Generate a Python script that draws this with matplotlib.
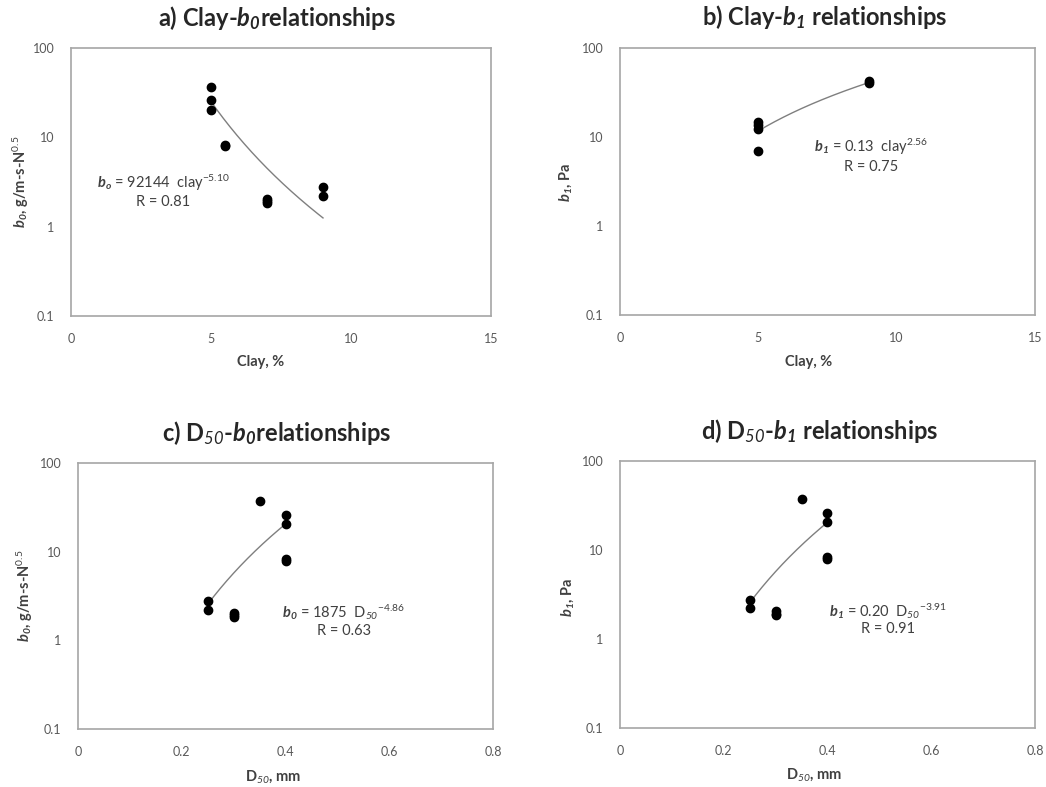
import numpy as np
import matplotlib
matplotlib.use("Agg")
import matplotlib.pyplot as plt
from matplotlib.ticker import FixedLocator, FixedFormatter, NullLocator


plt.rcParams['font.family'] = ['Lato', 'DejaVu Sans']
plt.rcParams['mathtext.fontset'] = 'custom'
plt.rcParams['mathtext.rm'] = 'Lato'
plt.rcParams['mathtext.it'] = 'Lato:italic'
plt.rcParams['mathtext.sf'] = 'Lato:italic'
plt.rcParams['mathtext.bf'] = 'Lato:bold'
plt.rcParams['mathtext.bfit'] = 'Lato:bold:italic'


#--------------------------------------------------------------------------------------------------
# Data.
#--------------------------------------------------------------------------------------------------
clay_b0 = [5, 5, 5, 5.5, 5.5, 7, 7, 7, 9, 9]
b0_clay = [36.5, 25.9, 20.3, 8.3, 8.0, 2.05, 1.92, 1.85, 2.76, 2.22]

clay_b1 = [5, 5, 5, 5, 9, 9]
b1_clay = [14.9, 13.7, 12.4, 7.05, 42.9, 40.4]

d50_b0 = [0.25, 0.25, 0.30, 0.30, 0.30, 0.35, 0.40, 0.40, 0.40, 0.40]
b0_d50 = [2.75, 2.22, 2.05, 1.92, 1.85, 37.0, 26.0, 20.6, 8.3, 7.9]

d50_b1 = [0.25, 0.25, 0.30, 0.30, 0.30, 0.35, 0.40, 0.40, 0.40, 0.40]
b1_d50 = [2.75, 2.22, 2.05, 1.92, 1.85, 37.0, 26.0, 20.6, 8.3, 7.9]

# Trend lines (power curves y = a x^n), coefficient, exponent and x span.
trend_a = (92144, -5.10, 5, 9)
trend_b = (0.38, 2.13, 5, 9)
trend_c = (1187, 4.43, 0.25, 0.40)
trend_d = (1187, 4.43, 0.25, 0.40)

y_ticks = [0.1, 1, 10, 100]
y_tick_labels = ["0.1", "1", "10", "100"]
clay_ticks = [0, 5, 10, 15]
d50_ticks = [0, 0.2, 0.4, 0.6, 0.8]
d50_tick_labels = ["0", "0.2", "0.4", "0.6", "0.8"]


W, H = 1046, 787
fig = plt.figure(figsize=(W / 100, H / 100), dpi=100)
fig.patch.set_facecolor("white")

tickColour = "#595959"
spineColour = "#a6a6a6"


def px_axes(left, top, right, bottom):
    return fig.add_axes([left / W, 1 - bottom / H, (right - left) / W, (bottom - top) / H])


def fig_text(x, y, s, **kw):
    fig.text(x / W, 1 - y / H, s, ha="center", va="center", **kw)


def setup_axes(ax, xTicks, xLabels, xMax):
    ax.set_yscale("log")
    ax.set_ylim(0.1, 100)
    ax.set_xlim(0, xMax)
    ax.yaxis.set_major_locator(FixedLocator(y_ticks))
    ax.yaxis.set_major_formatter(FixedFormatter(y_tick_labels))
    ax.yaxis.set_minor_locator(NullLocator())
    ax.set_xticks(xTicks)
    ax.set_xticklabels(xLabels)
    ax.tick_params(axis="both", length=0, labelsize=9, colors=tickColour)
    ax.tick_params(axis="x", pad=12)
    ax.tick_params(axis="y", pad=12)
    for spine in ax.spines.values():
        spine.set_color(spineColour)
        spine.set_linewidth(1.2)


def draw_panel(ax, x, y, trend):
    coef, expo, x0, x1 = trend
    xs = np.linspace(x0, x1, 200)
    ax.plot(xs, coef * xs ** expo, color="#7f7f7f", linewidth=1.0, zorder=2)
    ax.plot(x, y, "o", color="black", markersize=6, zorder=3)


# Panel a
axA = px_axes(71, 48, 491, 316)
setup_axes(axA, clay_ticks, [str(t) for t in clay_ticks], 15)
draw_panel(axA, clay_b0, b0_clay, trend_a)

# Panel b
axB = px_axes(620, 48, 1035, 315)
setup_axes(axB, clay_ticks, [str(t) for t in clay_ticks], 15)
draw_panel(axB, clay_b1, b1_clay, trend_b)

# Panel c
axC = px_axes(78, 463, 493, 729)
setup_axes(axC, d50_ticks, d50_tick_labels, 0.8)
draw_panel(axC, d50_b0, b0_d50, trend_c)

# Panel d
axD = px_axes(620, 461, 1035, 728)
setup_axes(axD, d50_ticks, d50_tick_labels, 0.8)
draw_panel(axD, d50_b1, b1_d50, trend_d)


# Titles
titleKw = dict(fontsize=17, fontweight="bold", color="#262626")
fig_text(277, 18, r"a) Clay-$\mathbfit{b_0}$relationships", **titleKw)
fig_text(825, 17, r"b) Clay-$\mathbfit{b_1}$ relationships", **titleKw)
fig_text(277, 433, r"c) D$_{\mathsf{50}}$-$\mathbfit{b_0}$relationships", **titleKw)
fig_text(820, 431, r"d) D$_{\mathsf{50}}$-$\mathbfit{b_1}$ relationships", **titleKw)

# Axis labels
labelKw = dict(fontsize=10.5, fontweight="bold", color="#404040")
fig_text(261, 362, "Clay, %", **labelKw)
fig_text(809, 362, "Clay, %", **labelKw)
fig_text(273, 777, r"D$_{\mathsf{50}}$, mm", **labelKw)
fig_text(814, 775, r"D$_{\mathsf{50}}$, mm", **labelKw)

fig_text(21, 182, r"$\mathbfit{b_0}$, g/m-s-N$^{0.5}$", rotation=90, **labelKw)
fig_text(566, 182, r"$\mathbfit{b_1}$, Pa", rotation=90, **labelKw)
fig_text(25, 596, r"$\mathbfit{b_0}$, g/m-s-N$^{0.5}$", rotation=90, **labelKw)
fig_text(568, 597, r"$\mathbfit{b_1}$, Pa", rotation=90, **labelKw)

# Equations
eqKw = dict(fontsize=10.5, color="#404040")
fig_text(163, 183, r"$\mathbfit{b_o}$ = 92144  clay$^{\mathrm{-5.10}}$", **eqKw)
fig_text(163, 202, "R = 0.81", **eqKw)
fig_text(871, 147, r"$\mathbfit{b_1}$ = 0.13  clay$^{\mathrm{2.56}}$", **eqKw)
fig_text(871, 167, "R = 0.75", **eqKw)
fig_text(344, 612, r"$\mathbfit{b_0}$ = 1875  D$_{\mathsf{50}}$$^{\mathrm{-4.86}}$", **eqKw)
fig_text(344, 631, "R = 0.63", **eqKw)
fig_text(888, 611, r"$\mathbfit{b_1}$ = 0.20  D$_{\mathsf{50}}$$^{\mathrm{-3.91}}$", **eqKw)
fig_text(888, 629, "R = 0.91", **eqKw)

fig.savefig("out.png", dpi=100)
